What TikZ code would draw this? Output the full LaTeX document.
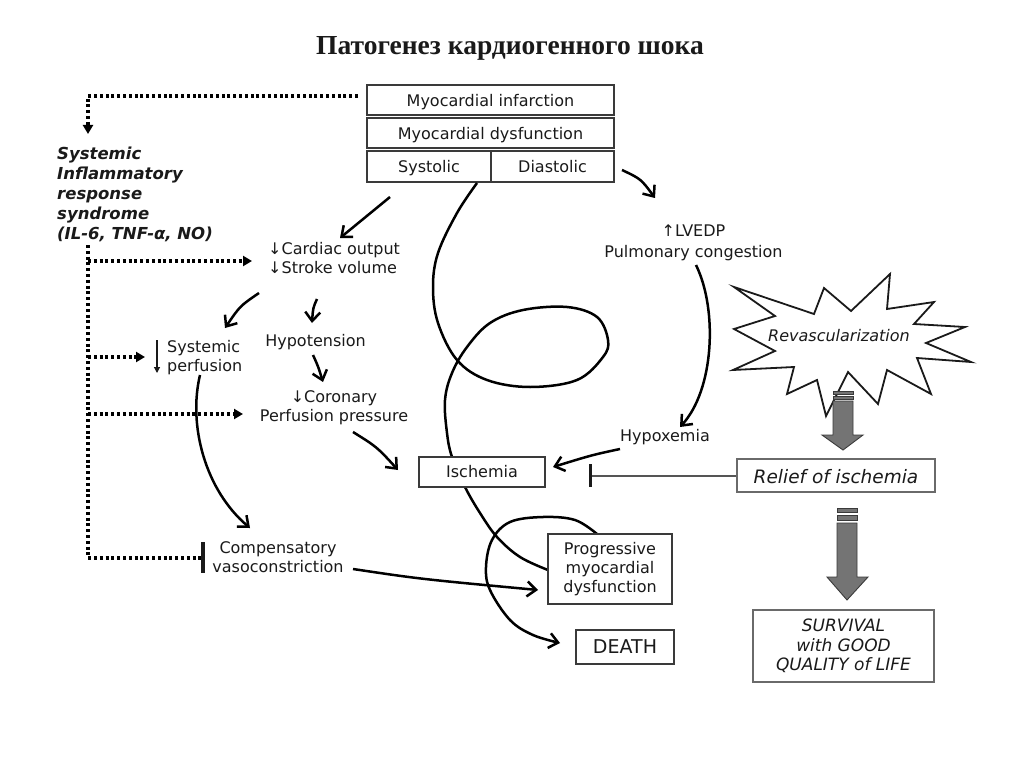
\documentclass[tikz,border=0pt]{standalone}
\usepackage{fontspec}
\setmainfont{DejaVu Sans}
\newfontfamily\titlefont{Liberation Serif}
\usetikzlibrary{arrows.meta}
\definecolor{ink}{HTML}{1A1A1A}
\definecolor{boxline}{HTML}{3A3A3A}
\definecolor{graybox}{HTML}{6A6A6A}
\definecolor{inhib}{HTML}{555555}
\definecolor{arrowfill}{HTML}{747474}
\begin{document}
\begin{tikzpicture}[x=1pt,y=-1pt,
  txt/.style={font=\fontsize{16}{19}\selectfont, text=ink, inner sep=0pt, align=center},
  box/.style={draw=boxline, line width=1.4pt, fill=white, inner sep=0pt, align=center, text=ink, font=\fontsize{16}{19}\selectfont},
  oneline/.style={text height=15.5pt, text depth=3pt},
  flow/.style={line width=2.5pt, draw=black, -{Straight Barb[length=9pt,width=15pt,line width=2.5pt]}},
  curve/.style={line width=2.5pt, draw=black},
  dots/.style={line width=3.2pt, dash pattern=on 3pt off 2.8pt, draw=black},
  dotarrow/.style={dots, -{Triangle[length=9pt,width=10pt]}},
  grayarrow/.style={draw=boxline, fill=arrowfill, line width=0.9pt},
]
\useasboundingbox (0,0) rectangle (1024,767);
\fill[white] (0,0) rectangle (1024,767);

% title
\node[font=\titlefont\bfseries\fontsize{27.5}{32}\selectfont, text=ink, inner sep=0pt] (title) at (510,48) {Патогенез кардиогенного шока};

% top boxes
\node[box, oneline, minimum width=247pt, minimum height=30pt] (mi) at (490.5,100) {Myocardial infarction};
\node[box, oneline, minimum width=247pt, minimum height=30pt] (md) at (490.5,133) {Myocardial dysfunction};
\node[box, oneline, minimum width=124pt, minimum height=31pt] (sys) at (429,166.5) {Systolic};
\node[box, oneline, minimum width=123pt, minimum height=31pt] (dia) at (552.5,166.5) {Diastolic};

% SIRS
\node[txt, font=\bfseries\itshape\fontsize{16.5}{20}\selectfont, align=left, anchor=west] (sirs) at (57,194) {Systemic\\Inflammatory\\response\\syndrome\\(IL-6, TNF-α, NO)};

% texts
\node[txt, align=left, anchor=west] (cardiac) at (268,258) {↓Cardiac output\\↓Stroke volume};
\node[txt, font=\fontsize{16}{21}\selectfont] (lvedp) at (693.5,243) {↑LVEDP\\Pulmonary congestion};
\node[txt, align=left, anchor=west] (sysperf) at (167,358) {Systemic\\perfusion};
\node[txt] (hypo) at (315.5,342) {Hypotension};
\node[txt] (coron) at (334,408) {↓Coronary\\Perfusion pressure};
\node[txt] (hypox) at (665,437) {Hypoxemia};
\node[txt] (comp) at (278,557) {Compensatory\\vasoconstriction};

% starburst
\draw[line width=1.8pt, draw=ink, fill=white] (734,287) -- (814,314) -- (824,288) -- (851,311) -- (890,274) -- (887,309) -- (934,302) -- (914,324) -- (965,327) -- (926,343) -- (971,362) -- (917,358) -- (931,394) -- (887,370) -- (878,404) -- (848,372) -- (826,416) -- (817,380) -- (787,394) -- (794,367) -- (733,370) -- (775,351) -- (734,329) -- (775,316) -- cycle;
\node[txt, font=\itshape\fontsize{16}{19}\selectfont] (revasc) at (839,336) {Revascularization};

% gray arrows
\draw[grayarrow] (833,391) rectangle (853,394);
\draw[grayarrow] (833,396) rectangle (853,399);
\draw[grayarrow] (833,401) -- (853,401) -- (853,435) -- (863,435) -- (843,450) -- (822,435) -- (833,435) -- cycle;
\draw[grayarrow] (837,508) rectangle (857,512);
\draw[grayarrow] (837,515) rectangle (857,520);
\draw[grayarrow] (837,523) -- (857,523) -- (857,577) -- (868,577) -- (847,600) -- (827,577) -- (837,577) -- cycle;

% spiral (drawn before boxes so boxes cover it)
\draw[curve] plot[smooth, tension=0.6] coordinates {(477,183) (457,213) (438,253) (433,287) (438,323) (457,360) (487,380) (530,387) (577,380) (603,357) (608,340) (597,317) (567,307) (523,310) (490,323) (467,347) (452,373) (445,400) (447,433) (452,457) (465,487) (480,513) (497,537) (520,557) (548,570)};
\draw[flow] plot[smooth, tension=0.6] coordinates {(597,534) (575,520) (543,517) (510,522) (492,540) (486,567) (490,590) (510,620) (533,635) (560,643)};

% lower boxes
\node[box, text height=15pt, text depth=3.4pt, minimum width=126pt, minimum height=30pt] (isch) at (482,472) {Ischemia};
\node[box, text height=19pt, text depth=2.6pt, draw=graybox, minimum width=198pt, minimum height=33pt, font=\itshape\fontsize{18.5}{22}\selectfont] (relief) at (836,475.5) {Relief of ischemia};
\node[box, draw=graybox, minimum width=181pt, minimum height=72pt, font=\itshape\fontsize{17}{19.5}\selectfont] (surv) at (843.5,646) {SURVIVAL\\with GOOD\\QUALITY of LIFE};
\node[box, minimum width=124pt, minimum height=70pt, font=\fontsize{16}{19}\selectfont] (prog) at (610,569) {Progressive\\myocardial\\dysfunction};
\node[box, text height=17pt, text depth=3.2pt, minimum width=98pt, minimum height=34pt, font=\fontsize{19}{22}\selectfont] (death) at (625,647) {DEATH};

% flow arrows
\draw[flow] (390,197) -- (340,238);
\draw[flow] (622,170) .. controls (641,179) .. (655,198);
\draw[flow] (696,265) .. controls (718,310) and (714,390) .. (680,427);
\draw[flow] (620,449) .. controls (592,455) .. (553,467);
\draw[flow] (353,432) .. controls (377,447) .. (398,470);
\draw[flow] (259,293) .. controls (240,306) .. (225,328);
\draw[flow] (317,299) .. controls (313,308) .. (312,323);
\draw[flow] (313,355) .. controls (318,366) .. (323,382);
\draw[flow] (200,375) .. controls (188,425) and (205,490) .. (250,528);
\draw[flow] (353,569) .. controls (420,579) .. (538,590);

% small down arrow of systemic perfusion
\draw[line width=1.2pt, draw=ink, -{Triangle[length=6pt,width=6pt]}] (157,340) -- (157,373);

% inhibitor from relief
\draw[draw=inhib, line width=2pt] (relief.west) -- (590,475.5);
\draw[draw=ink, line width=3pt] (590,464) -- (590,487);

% dotted SIRS lines
\coordinate (d0) at (358,96);
\coordinate (d1) at (88,96);
\coordinate (d2) at (88,134);
\draw[dotarrow] (d0) -- (d1) -- (d2);
\coordinate (v0) at (88,245);
\coordinate (v1) at (88,558);
\coordinate (v2) at (203,558);
\draw[dots] (v0) -- (v1) -- (v2);
\draw[draw=ink, line width=3.2pt] (203,542) -- (203,573);
\draw[dotarrow] (88,261) -- (252,261);
\draw[dotarrow] (88,357) -- (145,357);
\draw[dotarrow] (88,414) -- (243,414);
\end{tikzpicture}
\end{document}
